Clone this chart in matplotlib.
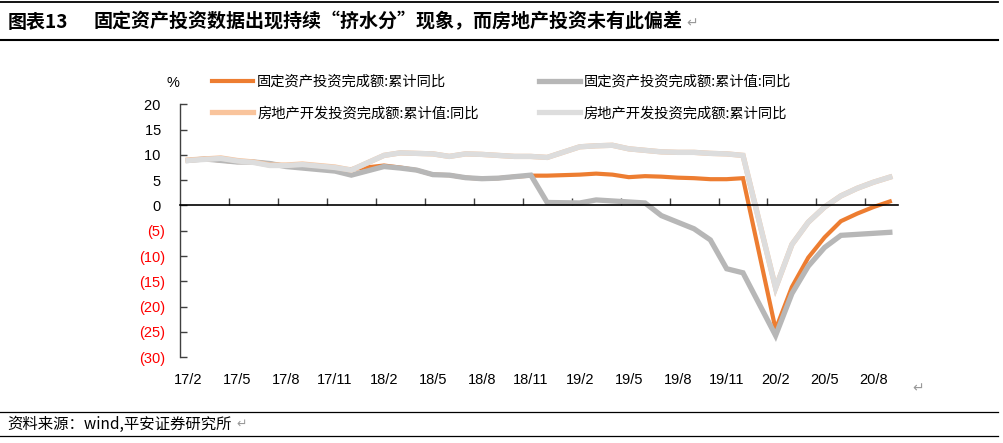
import numpy as np
import matplotlib
matplotlib.use('Agg')
from matplotlib import pyplot as plt
from matplotlib.lines import Line2D

plt.rcParams['font.family'] = ['Noto Sans CJK SC', 'DejaVu Sans']

# %% data: 17/2 .. 20/9, January has no release (nan)
nan = np.nan
all_months = [f'{y}/{m}' for y in (17, 18, 19, 20) for m in range(1, 13)]
months = all_months[1:45]

fai_yoy = [8.9, 9.2, 8.9, 8.6, 8.6, 8.3, 7.8, 7.5, 7.3, 7.2, 7.2,
           nan, 7.9, 7.5, 7.0, 6.1, 6.0, 5.5, 5.3, 5.4, 5.7, 5.9, 5.9,
           nan, 6.1, 6.3, 6.1, 5.6, 5.8, 5.7, 5.5, 5.4, 5.2, 5.2, 5.4,
           nan, -24.5, -16.1, -10.3, -6.3, -3.1, -1.6, -0.3, 0.8]
fai_val_yoy = [8.9, 9.2, 8.9, 8.6, 8.6, 8.3, 7.7, 7.4, 7.1, 6.8, 6.0,
               nan, 7.7, 7.4, 7.0, 6.1, 6.0, 5.5, 5.3, 5.4, 5.7, 6.0, 0.6,
               nan, 0.5, 1.1, 0.9, 0.7, 0.5, -2.0, -3.3, -4.6, -6.8, -12.5, -13.3,
               nan, -25.7, -17.4, -12.0, -8.3, -5.9, -5.7, -5.5, -5.3]
re_val_yoy = [9.0, 9.2, 9.4, 8.9, 8.6, 8.0, 8.0, 8.2, 7.9, 7.6, 7.0,
              nan, 9.9, 10.4, 10.3, 10.2, 9.7, 10.2, 10.1, 9.9, 9.7, 9.7, 9.5,
              nan, 11.6, 11.8, 11.9, 11.2, 10.9, 10.6, 10.5, 10.5, 10.3, 10.2, 9.9,
              nan, -16.3, -7.7, -3.3, -0.3, 1.9, 3.4, 4.6, 5.6]
re_yoy = [8.9, 9.1, 9.3, 8.8, 8.5, 7.9, 7.9, 8.1, 7.8, 7.5, 7.0,
          nan, 9.9, 10.4, 10.3, 10.2, 9.7, 10.2, 10.1, 9.9, 9.7, 9.7, 9.5,
          nan, 11.6, 11.8, 11.9, 11.2, 10.9, 10.6, 10.5, 10.5, 10.3, 10.2, 9.9,
          nan, -16.3, -7.7, -3.3, -0.3, 1.9, 3.4, 4.6, 5.6]

tick_labels = ['17/2', '17/5', '17/8', '17/11', '18/2', '18/5', '18/8', '18/11',
               '19/2', '19/5', '19/8', '19/11', '20/2', '20/5', '20/8']
y_ticks = [20, 15, 10, 5, 0, -5, -10, -15, -20, -25, -30]

names = ['固定资产投资完成额:累计同比', '固定资产投资完成额:累计值:同比',
         '房地产开发投资完成额:累计值:同比', '房地产开发投资完成额:累计同比']
colors = ['#ED7D31', '#B7B7B7', '#F9C49C', '#DDDDDD']

# %% figure
W, H = 1004, 443
fig = plt.figure(figsize=(W / 100, H / 100), dpi=100)
ax = fig.add_axes([180 / W, 1 - 357.3 / H, 718 / W, 253 / H])

x = np.arange(len(months))
lines = []
for vals, name, col, lw in zip([fai_yoy, fai_val_yoy, re_val_yoy, re_yoy],
                               names, colors, [3.0, 3.8, 3.8, 3.8]):
    v = np.array(vals, dtype=float)
    ok = np.isfinite(v)
    ln, = ax.plot(x[ok], v[ok], color=col, lw=lw, label=name,
                  solid_joinstyle='miter')
    lines.append(ln)

ax.set_xlim(-0.5, len(months) - 0.5)
ax.set_ylim(-30, 20)

for s in ['top', 'right']:
    ax.spines[s].set_visible(False)
ax.spines['bottom'].set_position(('data', 0))
ax.spines['bottom'].set_color('black')
ax.spines['bottom'].set_linewidth(1.2)
ax.spines['left'].set_color('#404040')
ax.spines['left'].set_linewidth(1.0)

ax.set_xticks(np.arange(2.5, len(months) - 1, 3))
ax.tick_params(axis='x', direction='in', length=5, width=1, color='#404040',
               labelbottom=False)
ax.set_yticks(y_ticks)
ax.set_yticklabels([f'{v} ' if v >= 0 else f'({-v})' for v in y_ticks],
                   family='Liberation Sans', fontsize=10.5)
ax.tick_params(axis='y', direction='in', length=5, width=1, color='#404040',
               pad=10.8)
for t, v in zip(ax.get_yticklabels(), y_ticks):
    t.set_color('red' if v < 0 else 'black')

for lbl in tick_labels:
    ax.text(months.index(lbl), -0.09, lbl, transform=ax.get_xaxis_transform(),
            ha='center', va='center', family='Liberation Sans', fontsize=10.5)

fig.text(173 / W, 1 - 83 / H, '%', ha='center', va='center',
         family='Liberation Sans', fontsize=10.5)

ax.legend(handles=[lines[0], lines[2], lines[1], lines[3]], ncol=2,
          loc='upper left', bbox_to_anchor=(212 / W, 1 - 75 / H),
          bbox_transform=fig.transFigure, frameon=False, fontsize=10.3,
          handlelength=2.9, handletextpad=0.25, columnspacing=4.2,
          labelspacing=1.2, borderpad=0, borderaxespad=0)

# %% title / source
fig.text(8 / W, 1 - 22 / H, '图表13', fontsize=13.7, fontweight='bold',
         ha='left', va='center')
fig.text(94 / W, 1 - 22 / H, '固定资产投资数据出现持续“挤水分”现象，而房地产投资未有此偏差',
         fontsize=13.7, fontweight='bold', ha='left', va='center')
fig.text(686 / W, 1 - 23 / H, '↵', fontsize=10, color='#999999',
         family='DejaVu Sans', ha='left', va='center')
fig.text(912 / W, 1 - 388 / H, '↵', fontsize=10, color='#999999',
         family='DejaVu Sans', ha='left', va='center')
fig.text(7 / W, 1 - 424 / H, '资料来源：wind,平安证券研究所', fontsize=11.1,
         ha='left', va='center')
fig.text(236 / W, 1 - 424 / H, '↵', fontsize=9, color='#999999',
         family='DejaVu Sans', ha='left', va='center')

for yy, lw in [(1.5, 1.3), (40, 1.5), (412, 0.9), (436, 0.9)]:
    fig.add_artist(Line2D([0, 998 / W], [1 - yy / H, 1 - yy / H],
                          transform=fig.transFigure, color='black', lw=lw))

fig.savefig('out.png', dpi=100)
